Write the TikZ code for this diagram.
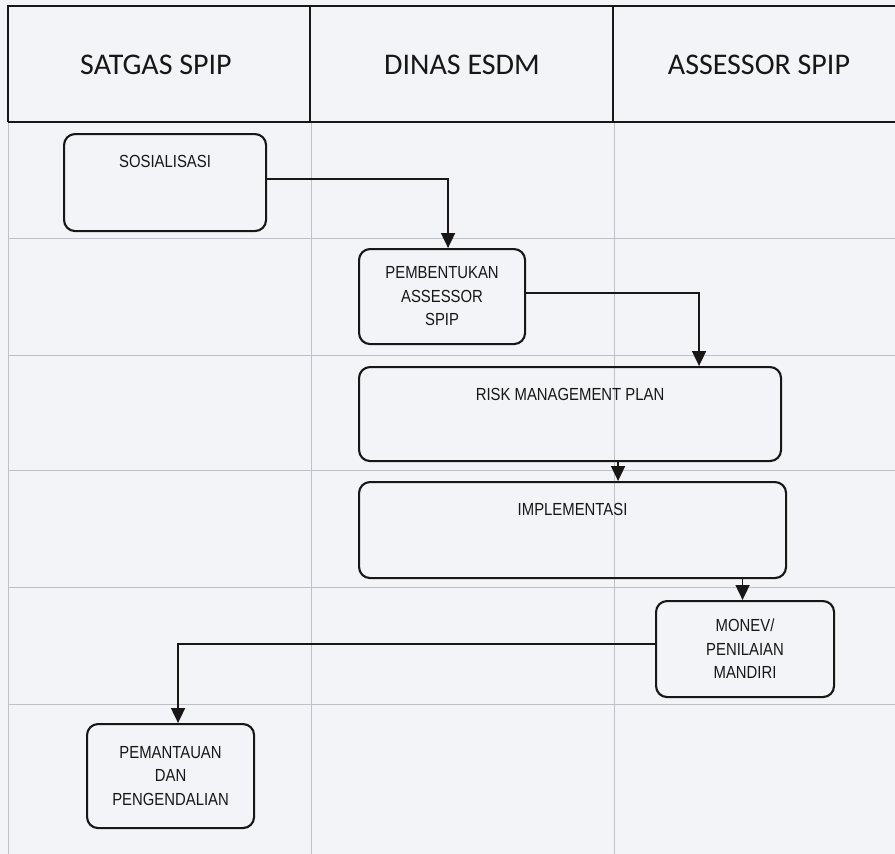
\documentclass[tikz,border=0pt]{standalone}
\usepackage{fontspec}
\usetikzlibrary{arrows.meta}
\newfontfamily\headfont{Carlito}
\newfontfamily\procfont{Liberation Sans}[FakeStretch=0.85]
\definecolor{paper}{RGB}{242,244,248}
\definecolor{ink}{RGB}{25,22,22}
\definecolor{gridgray}{RGB}{190,193,200}
\begin{document}
\begin{tikzpicture}[x=1pt,y=-1pt,
		proc/.style = {draw=ink, line width=2.1pt, rounded corners=11pt, align=center,
			inner sep=0pt, anchor=north west, text=ink,
			font=\procfont\fontsize{17.5}{23.5}\selectfont},
		toptext/.style = {text height=33.5pt, text depth=#1},
		flow/.style = {draw=ink, line width=1.8pt, -{Triangle[length=15pt,width=14pt]}},
		gridline/.style = {draw=gridgray, line width=0.7pt},
		head/.style = {font=\headfont\fontsize{30}{36}\selectfont, text=ink}]
	\fill[paper] (0,0) rectangle (895,854);
	\useasboundingbox (0,0) rectangle (895,854);
	% lanes
	\foreach \y in {238,355,470,587,704}
		\draw[gridline] (8,\y) -- (895,\y);
	\foreach \x in {8,311,614}
		\draw[gridline] (\x,122) -- (\x,854);
	\draw[ink, line width=1.7pt] (8,122) -- (8,6) -- (897,6) (8,122) -- (897,122);
	\draw[ink, line width=1.5pt] (310,6) -- (310,122) (613,6) -- (613,122);
	\node[head] (satgas) at (156,65) {SATGAS SPIP};
	\node[head] (dinas) at (462,65) {DINAS ESDM};
	\node[head] (assessor) at (759,65) {ASSESSOR SPIP};
	% steps
	\node[proc, toptext=63.5pt, minimum width=202pt] (sosialisasi) at (63,133) {SOSIALISASI};
	\node[proc, minimum width=166pt, minimum height=95pt] (pembentukan) at (358,248)
		{PEMBENTUKAN\\ASSESSOR\\SPIP};
	\node[proc, toptext=60.5pt, minimum width=422pt] (rmp) at (358,366) {RISK MANAGEMENT PLAN};
	\node[proc, toptext=62.5pt, minimum width=427pt] (implementasi) at (358,481) {IMPLEMENTASI};
	\node[proc, minimum width=178pt, minimum height=96pt] (monev) at (655,600)
		{MONEV/\\PENILAIAN\\MANDIRI};
	\node[proc, minimum width=167pt, minimum height=104pt] (pemantauan) at (86,723)
		{PEMANTAUAN\\DAN\\PENGENDALIAN};
	% arrows
	\draw[flow] ([yshift=3.5pt]sosialisasi.east) -| ([xshift=6pt]pembentukan.north);
	\draw[flow] ([yshift=3.5pt]pembentukan.east) -| ([xshift=129pt]rmp.north);
	\draw[flow] ([xshift=48pt]rmp.south) -- ([xshift=48pt]rmp.south |- implementasi.north);
	\draw[flow] ([xshift=170pt]implementasi.south) -- ([xshift=170pt]implementasi.south |- monev.north);
	\draw[flow] ([yshift=5pt]monev.west) -| ([xshift=7.5pt]pemantauan.north);
\end{tikzpicture}
\end{document}
